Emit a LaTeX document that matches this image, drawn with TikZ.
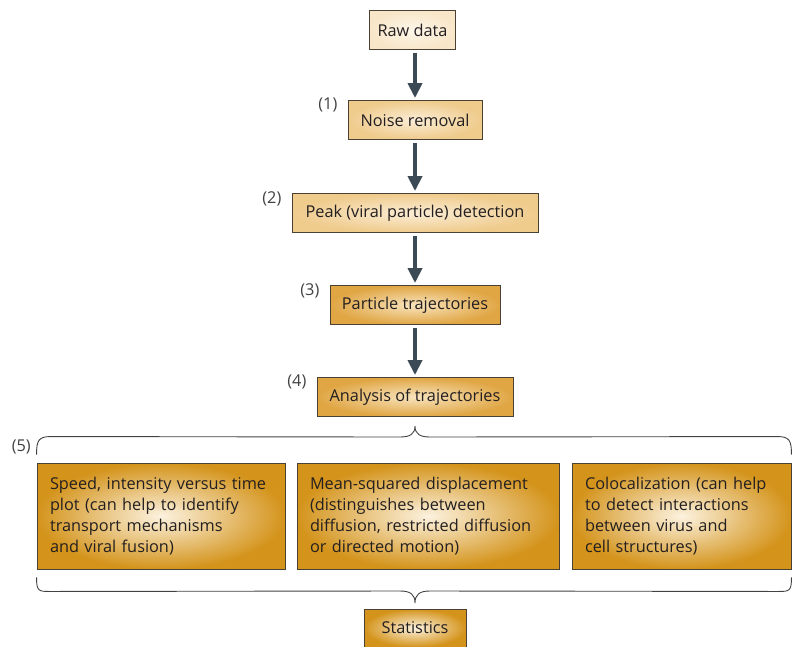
\documentclass[tikz,border=0pt]{standalone}
\usepackage{fontspec}
\setmainfont{Open Sans}
\usetikzlibrary{arrows.meta}
\usetikzlibrary{positioning}
\usepackage{xcolor}

\definecolor{inkgray}{HTML}{231F20}
\definecolor{arrowslate}{HTML}{3B4A55}
\definecolor{boxline}{HTML}{4A4034}
\definecolor{creamin}{HTML}{FDF6EA}
\definecolor{creamout}{HTML}{F8E6C8}
\definecolor{palein}{HTML}{FBEDD6}
\definecolor{paleout}{HTML}{EFCB8C}
\definecolor{midin}{HTML}{F8E4BE}
\definecolor{midout}{HTML}{E0A644}
\definecolor{deepin}{HTML}{FCF2DF}
\definecolor{deepout}{HTML}{D4941C}

\begin{document}
\begin{tikzpicture}[x=1pt, y=1pt, node distance=92pt, font=\fontsize{16.3}{21}\selectfont, text=inkgray]
\tikzstyle{stepbox} = [draw=boxline, line width=0.9pt, shade, shading=radial, minimum height=39pt, inner xsep=8pt]
\tikzstyle{rawbox} = [stepbox, inner color=creamin, outer color=creamout]
\tikzstyle{palebox} = [stepbox, inner color=palein, outer color=paleout]
\tikzstyle{midbox} = [stepbox, inner color=midin, outer color=midout]
\tikzstyle{bigbox} = [draw=boxline, line width=0.9pt, shade, shading=radial, inner color=deepin, outer color=deepout, minimum height=106pt, align=left, inner xsep=13pt]
\tikzstyle{steplabel} = [text=inkgray!85, inner sep=0pt, anchor=north east]
\tikzstyle{flow} = [arrowslate, line width=4.5pt, -{Triangle[length=15pt, width=14pt]}, shorten >=2pt, shorten <=3pt]
\tikzstyle{brace} = [line width=0.9pt, draw=inkgray!85]

\useasboundingbox (0,0) rectangle (797,-646);

\node[rawbox, minimum width=85pt] (raw) at (412.5,-30) {Raw data};
\node[palebox, minimum width=134pt] (noise) at (415,-120) {Noise removal};
\node[palebox, minimum width=246pt] (peak) [below of=noise, yshift=-1pt] {Peak (viral particle) detection};
\node[midbox, minimum width=170pt] (traj) [below of=peak] {Particle trajectories};
\node[midbox, minimum width=196pt] (analysis) [below of=traj] {Analysis of trajectories};

\node[steplabel] (l1) at ([xshift=-10pt, yshift=2pt]noise.north west) {(1)};
\node[steplabel] (l2) at ([xshift=-10pt, yshift=2pt]peak.north west) {(2)};
\node[steplabel] (l3) at ([xshift=-10pt, yshift=2pt]traj.north west) {(3)};
\node[steplabel] (l4) at ([xshift=-10pt, yshift=2pt]analysis.north west) {(4)};

\node[bigbox, minimum width=248pt, text width=222pt] (speed) at (161,-516) {Speed, intensity versus time\\plot (can help to identify\\transport mechanisms\\and viral fusion)};
\node[bigbox, minimum width=262pt, text width=236pt] (msd) at (428,-516) {Mean-squared displacement\\(distinguishes between\\diffusion, restricted diffusion\\or directed motion)};
\node[bigbox, minimum width=219pt, text width=193pt] (coloc) at (681.5,-516) {Colocalization (can help\\to detect interactions\\between virus and\\cell structures)};

\node[steplabel, anchor=east] (l5) at (31,-447) {(5)};

\node[bigbox, minimum width=102pt, minimum height=38pt, text width=, align=center] (stats) at (415,-628) {Statistics};

% arrows between steps
\draw[flow] (raw.south -| noise.north) -- (noise.north);
\draw[flow] (noise) -- (peak);
\draw[flow] (peak) -- (traj);
\draw[flow] (traj) -- (analysis);

% braces round the three analyses
\coordinate (tipA) at (415,-426);
\coordinate (tipB) at (415,-603);
\draw[brace] ([yshift=8pt]speed.north west) .. controls ++(0,14) and ++(-12,0) .. ([xshift=14pt, yshift=26pt]speed.north west)
  -- (400,-437) .. controls (410,-437) and (415,-434) .. (tipA)
  .. controls (415,-434) and (420,-437) .. (430,-437)
  -- ([xshift=-14pt, yshift=26pt]coloc.north east) .. controls ++(12,0) and ++(0,14) .. ([yshift=8pt]coloc.north east);
\draw[brace] ([yshift=-8pt]speed.south west) .. controls ++(0,-14) and ++(-12,0) .. ([xshift=14pt, yshift=-22pt]speed.south west)
  -- (400,-591) .. controls (410,-591) and (415,-594) .. (tipB)
  .. controls (415,-594) and (420,-591) .. (430,-591)
  -- ([xshift=-14pt, yshift=-22pt]coloc.south east) .. controls ++(12,0) and ++(0,-14) .. ([yshift=-8pt]coloc.south east);

\end{tikzpicture}
\end{document}
